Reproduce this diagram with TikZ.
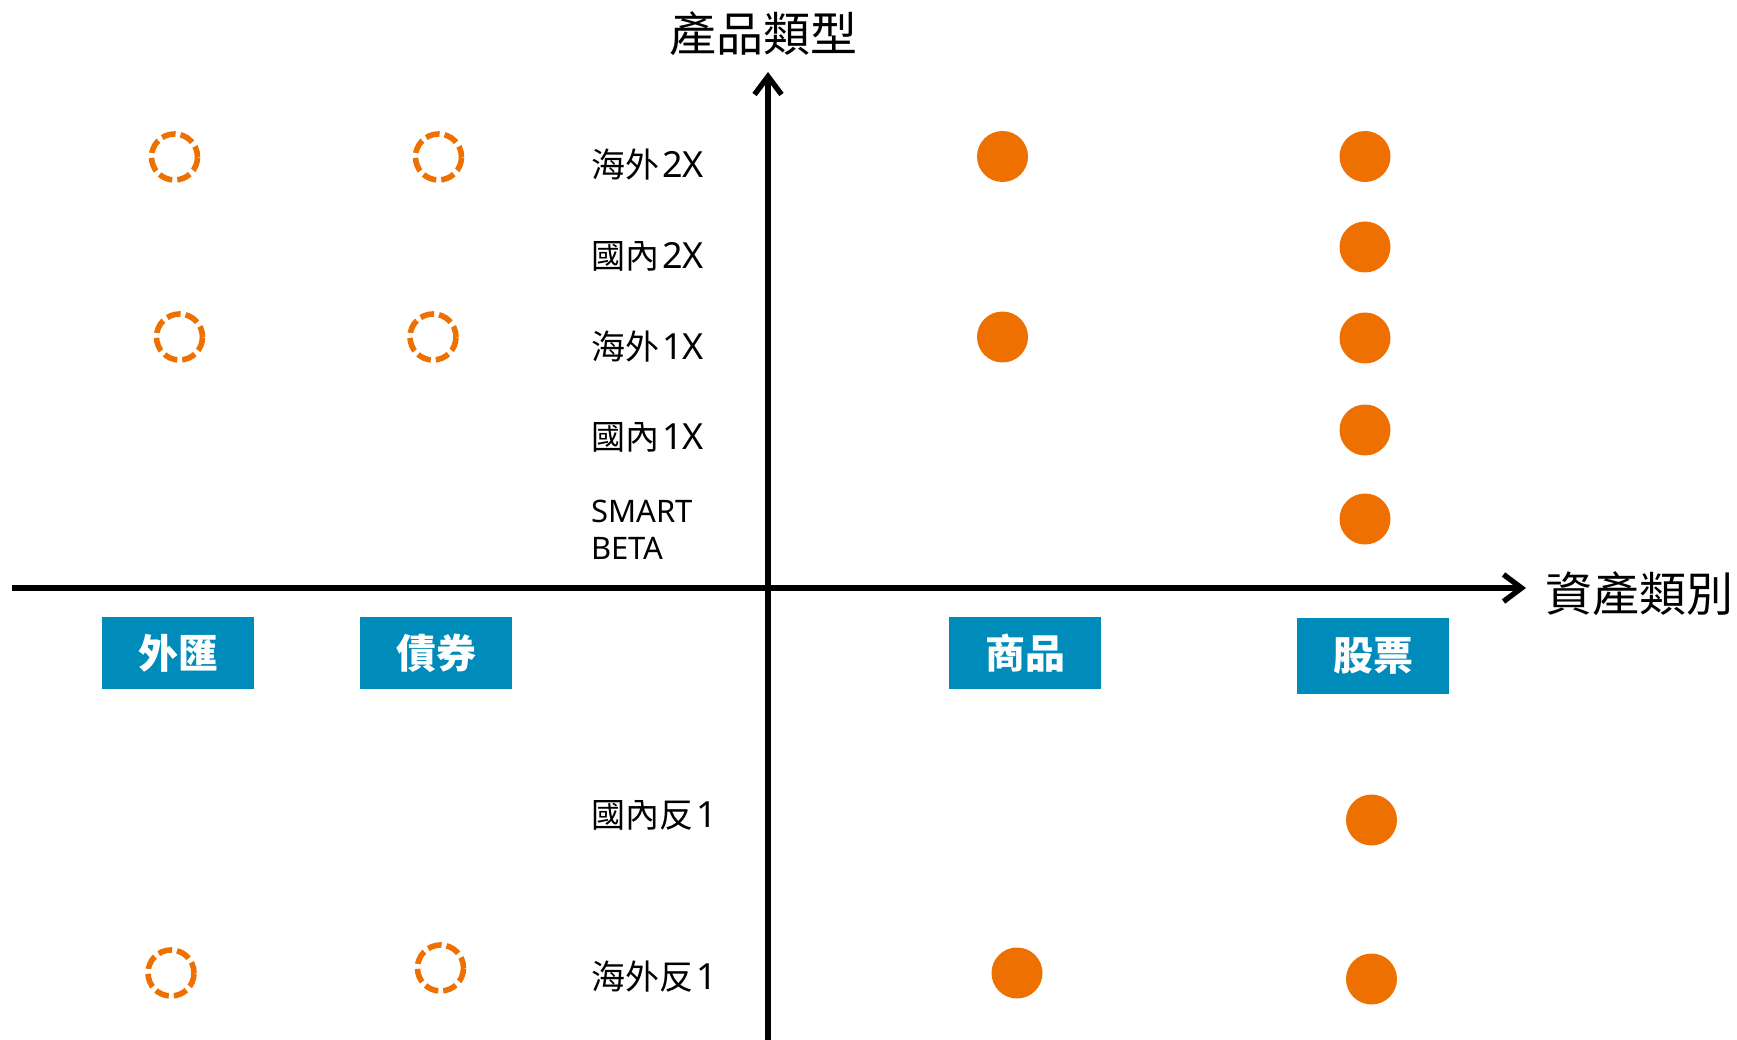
\documentclass[tikz,border=0pt]{standalone}
\usepackage{fontspec}
\setmainfont{Noto Sans CJK TC}
\newfontfamily\latinf{Noto Sans}
\newcommand{\lt}[1]{\kern3pt{\latinf\fontsize{36}{38}\selectfont #1}}
\usetikzlibrary{arrows.meta}
\definecolor{dotorange}{RGB}{237,112,0}
\definecolor{boxblue}{RGB}{0,140,186}
\begin{document}
\begin{tikzpicture}[x=1pt,y=-1pt,
  axis/.style={line width=5.4pt,-{Straight Barb[length=18pt,width=27pt,line width=5.4pt]}},
  hollowdot/.style={circle,draw=dotorange,line width=5.6pt,dash pattern=on 14pt off 5pt,dash phase=3pt,minimum size=46pt,inner sep=0pt},
  fulldot/.style={circle,fill=dotorange,minimum size=51pt,inner sep=0pt},
  cat/.style={fill=boxblue,text=white,font=\fontsize{40}{42}\selectfont\bfseries,minimum width=152pt,inner sep=0pt},
  lbl/.style={anchor=west,font=\fontsize{34}{38}\selectfont,inner sep=0pt},
  axtitle/.style={font=\fontsize{47}{52}\selectfont,inner sep=0pt}]
\useasboundingbox (0,0) rectangle (1737,1040);

% axes
\coordinate (xs) at (12,588);
\coordinate (xe) at (1526,588);
\coordinate (ys) at (768,1040);
\coordinate (ye) at (768,72);
\draw[axis] (xs) -- (xe);
\draw[axis] (ys) -- (ye);
\node[axtitle] (ytitle) at (763,34) {產品類型};
\node[axtitle,anchor=west] (xtitle) at (1545,594) {資產類別};

% row labels
\node[lbl] (l1) at (591,165) {海外\lt{2X}};
\node[lbl] (l2) at (591,256) {國內\lt{2X}};
\node[lbl] (l3) at (591,347) {海外\lt{1X}};
\node[lbl] (l4) at (591,437) {國內\lt{1X}};
\node[lbl,align=left,font=\fontsize{31}{37}\selectfont\latinf] (l5) at (591,530) {SMART\\BETA};
\node[lbl] (l6) at (591,815) {國內反\lt{1}};
\node[lbl] (l7) at (591,977) {海外反\lt{1}};

% category boxes
\node[cat,minimum height=72pt] (fx) at (178,653) {外匯};
\node[cat,minimum height=72pt] (bond) at (436,653) {債券};
\node[cat,minimum height=72pt] (comm) at (1025,653) {商品};
\node[cat,minimum height=76pt] (stock) at (1373,656) {股票};

% hollow dots
\node[hollowdot] (h1) at (174.5,157) {};
\node[hollowdot] (h2) at (438.5,157) {};
\node[hollowdot] (h3) at (179.5,337) {};
\node[hollowdot] (h4) at (433,337) {};
\node[hollowdot] (h5) at (171,973) {};
\node[hollowdot] (h6) at (440.5,968) {};

% filled dots
\node[fulldot] (f1) at (1002.5,156.5) {};
\node[fulldot] (f2) at (1365,156.5) {};
\node[fulldot] (f3) at (1365,247) {};
\node[fulldot] (f4) at (1002.5,337) {};
\node[fulldot] (f5) at (1365,338) {};
\node[fulldot] (f6) at (1365,430) {};
\node[fulldot] (f7) at (1365,519) {};
\node[fulldot] (f8) at (1371.5,820) {};
\node[fulldot] (f9) at (1017,973) {};
\node[fulldot] (f10) at (1371.5,979) {};
\end{tikzpicture}
\end{document}
